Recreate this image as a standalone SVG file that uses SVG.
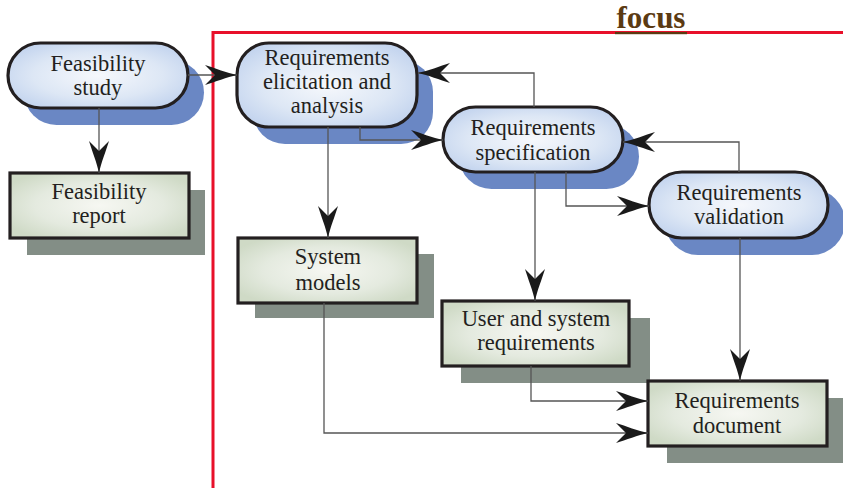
<svg xmlns="http://www.w3.org/2000/svg" width="843" height="488" viewBox="0 0 843 488">
  <style>
    .proc { stroke: #231f20; stroke-width: 3.2; fill: url(#gProc); }
    .proc-sh { fill: #6a87c4; }
    .doc { stroke: #231f20; stroke-width: 3.2; fill: url(#gDoc); }
    .doc-sh { fill: #838e86; }
    .lbl { font-family: "Liberation Serif", "Times New Roman", serif; font-size: 22.5px; fill: #231f20; text-anchor: middle; }
    .conn { fill: none; stroke: #555; stroke-width: 1.3; marker-end: url(#arr); }
    .frame { fill: none; stroke: #e8102a; stroke-width: 3; }
  </style>
  <defs>
    <radialGradient id="gProc" cx="50%" cy="50%" r="60%">
      <stop offset="0" stop-color="#f6f8fc"/>
      <stop offset="0.6" stop-color="#dde7f5"/>
      <stop offset="1" stop-color="#c2d3ee"/>
    </radialGradient>
    <radialGradient id="gDoc" cx="50%" cy="50%" r="60%">
      <stop offset="0" stop-color="#f6f7f2"/>
      <stop offset="0.6" stop-color="#e4eadf"/>
      <stop offset="1" stop-color="#cfdac6"/>
    </radialGradient>
    <marker id="arr" markerUnits="userSpaceOnUse" markerWidth="33" markerHeight="22" refX="32" refY="10" orient="auto" viewBox="0 0 33 22">
      <path d="M32,10 C22,8 10,3 0,0 L10,10 L0,20 C10,17 22,12 32,10 Z" fill="#1a1a1a"/>
    </marker>
  </defs>

  <!-- focus frame -->
  <path class="frame" d="M213,488 V32.5 H843"/>
  <text x="651" y="28" font-family="Liberation Serif, serif" font-weight="bold" font-size="31" fill="#5b3a12" text-anchor="middle">focus</text>
  <rect x="615" y="32" width="72" height="2.2" fill="#5b3a12"/>

  <!-- process nodes -->
  <g id="feasibility-study">
    <rect class="proc-sh" x="24" y="60" width="180" height="65" rx="32.5"/>
    <rect class="proc" x="8" y="43" width="180" height="65" rx="32.5"/>
    <text class="lbl" x="98" y="71">Feasibility</text>
    <text class="lbl" x="98" y="95">study</text>
  </g>
  <g id="elicitation">
    <rect class="proc-sh" x="253" y="60" width="180" height="84" rx="32"/>
    <rect class="proc" x="237" y="43" width="180" height="84" rx="32"/>
    <text class="lbl" x="327" y="65">Requirements</text>
    <text class="lbl" x="327" y="89">elicitation and</text>
    <text class="lbl" x="327" y="113">analysis</text>
  </g>
  <g id="specification">
    <rect class="proc-sh" x="459" y="124" width="180" height="65" rx="32.5"/>
    <rect class="proc" x="443" y="107" width="180" height="65" rx="32.5"/>
    <text class="lbl" x="533" y="135">Requirements</text>
    <text class="lbl" x="533" y="160">specification</text>
  </g>
  <g id="validation">
    <rect class="proc-sh" x="665" y="189" width="180" height="66" rx="33"/>
    <rect class="proc" x="649" y="172" width="179" height="66" rx="33"/>
    <text class="lbl" x="739" y="200">Requirements</text>
    <text class="lbl" x="739" y="224">validation</text>
  </g>

  <!-- document nodes -->
  <g id="feasibility-report">
    <rect class="doc-sh" x="27" y="190" width="178" height="65"/>
    <rect class="doc" x="10" y="173" width="179" height="65"/>
    <text class="lbl" x="99" y="199">Feasibility</text>
    <text class="lbl" x="99" y="223">report</text>
  </g>
  <g id="system-models">
    <rect class="doc-sh" x="255" y="254" width="179" height="64"/>
    <rect class="doc" x="238" y="238" width="179" height="65"/>
    <text class="lbl" x="328" y="264">System</text>
    <text class="lbl" x="328" y="290">models</text>
  </g>
  <g id="user-system-requirements">
    <rect class="doc-sh" x="461" y="318" width="189" height="65"/>
    <rect class="doc" x="442" y="301" width="187" height="65"/>
    <text class="lbl" x="536" y="326">User and system</text>
    <text class="lbl" x="536" y="350">requirements</text>
  </g>
  <g id="requirements-document">
    <rect class="doc-sh" x="667" y="398" width="180" height="65"/>
    <rect class="doc" x="648" y="381" width="179" height="65"/>
    <text class="lbl" x="737" y="408">Requirements</text>
    <text class="lbl" x="737" y="433">document</text>
  </g>

  <!-- connectors -->
  <g id="connectors">
    <path class="conn" d="M188,75 H237"/>
    <path class="conn" d="M99,108 V173"/>
    <path class="conn" d="M328,127 V238"/>
    <path class="conn" d="M360,127 V140 H443"/>
    <path class="conn" d="M534,107 V73 H418"/>
    <path class="conn" d="M566,172 V206 H649"/>
    <path class="conn" d="M739,172 V142 H623"/>
    <path class="conn" d="M535,172 V301"/>
    <path class="conn" d="M740,238 V381"/>
    <path class="conn" d="M531,366 V401 H648"/>
    <path class="conn" d="M324,303 V433 H648"/>
  </g>
</svg>
